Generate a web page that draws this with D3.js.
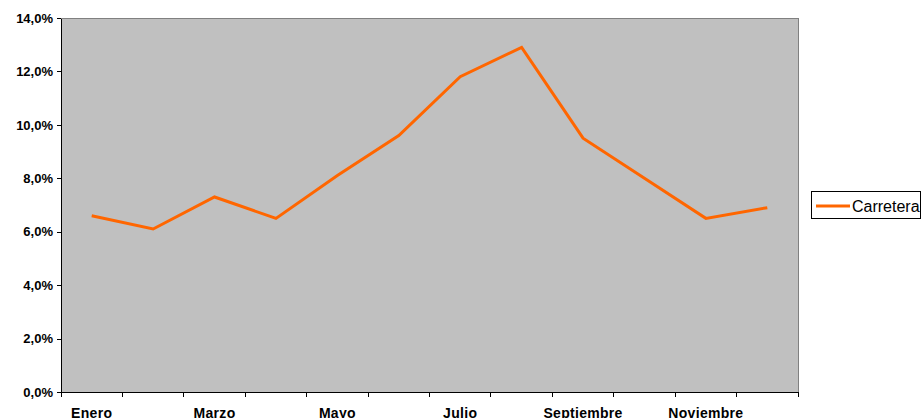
<!DOCTYPE html>
<meta charset="utf-8">
<style>
body { margin: 0; background: #fff; font-family: Arial, "Liberation Sans", sans-serif; }
.axis text { font: bold 13px Arial, "Liberation Sans", sans-serif; fill: #000; }
.axis .lb { font-size: 14px; letter-spacing: 0.3px; }
.axis path, .axis line { stroke: #000; stroke-width: 1; shape-rendering: crispEdges; }
</style>
<script src="https://d3js.org/d3.v7.min.js"></script>
<body>
<div id="chart"></div>
<script>
// data
var months = ["Enero", "Febrero", "Marzo", "Abril", "Mayo", "Junio", "Julio",
              "Agosto", "Septiembre", "Octubre", "Noviembre", "Diciembre"];
var carretera = [6.6, 6.1, 7.3, 6.5, 8.1, 9.6, 11.8, 12.9, 9.5, 8.0, 6.5, 6.9];
var yTicks = [0, 2, 4, 6, 8, 10, 12, 14];
var seriesName = "Carretera";

var W = 923, H = 418;
var margin = {top: 18, right: 125, bottom: 26, left: 61},
    width = W - margin.left - margin.right,
    height = H - margin.top - margin.bottom;

var svg = d3.select("#chart").append("svg")
    .attr("width", W)
    .attr("height", H);

var g = svg.append("g")
    .attr("transform", "translate(" + margin.left + "," + margin.top + ")");

var x = d3.scaleBand().domain(months).range([0, width]);
var y = d3.scaleLinear().domain([0, 14]).range([height, 0]);

// plot background
g.append("rect")
    .attr("width", width)
    .attr("height", height)
    .attr("fill", "#c0c0c0")
    .attr("stroke", "#808080")
    .attr("shape-rendering", "crispEdges");

// y axis
var fmt = function(d) { return d.toFixed(1).replace(".", ",") + "%"; };
g.append("g")
    .attr("class", "axis")
    .call(d3.axisLeft(y).tickValues(yTicks).tickSize(4).tickSizeOuter(0).tickPadding(4).tickFormat(fmt));

// x axis: ticks at band boundaries, labels every other month
var xg = g.append("g")
    .attr("class", "axis")
    .attr("transform", "translate(0," + height + ")");
xg.append("line").attr("x1", 0).attr("x2", width);
var bounds = d3.range(months.length + 1).map(function(i) { return i * x.bandwidth(); });
xg.selectAll(".tk").data(bounds).enter().append("line")
    .attr("x1", function(d) { return d; }).attr("x2", function(d) { return d; })
    .attr("y1", 0).attr("y2", 5);
xg.selectAll(".lb").data(months.filter(function(d, i) { return i % 2 == 0; })).enter().append("text")
    .attr("class", "lb")
    .attr("x", function(d) { return x(d) + x.bandwidth() / 2; })
    .attr("y", 26)
    .attr("text-anchor", "middle")
    .text(function(d) { return d; });

// the line
var line = d3.line()
    .x(function(d, i) { return x(months[i]) + x.bandwidth() / 2; })
    .y(function(d) { return y(d); });
g.append("path")
    .datum(carretera)
    .attr("fill", "none")
    .attr("stroke", "#ff6600")
    .attr("stroke-width", 3)
    .attr("stroke-linejoin", "miter")
    .attr("d", line);

// legend
var lg = svg.append("g").attr("transform", "translate(811,191)");
lg.append("rect")
    .attr("x", 0.5).attr("y", 0.5)
    .attr("width", 109).attr("height", 27)
    .attr("fill", "#fff")
    .attr("stroke", "#000");
lg.append("line")
    .attr("x1", 5).attr("x2", 39)
    .attr("y1", 15).attr("y2", 15)
    .attr("stroke", "#ff6600")
    .attr("stroke-width", 3);
lg.append("text")
    .attr("x", 41).attr("y", 21)
    .style("font", "16px Arial, 'Liberation Sans', sans-serif")
    .text(seriesName);
</script>
</body>
